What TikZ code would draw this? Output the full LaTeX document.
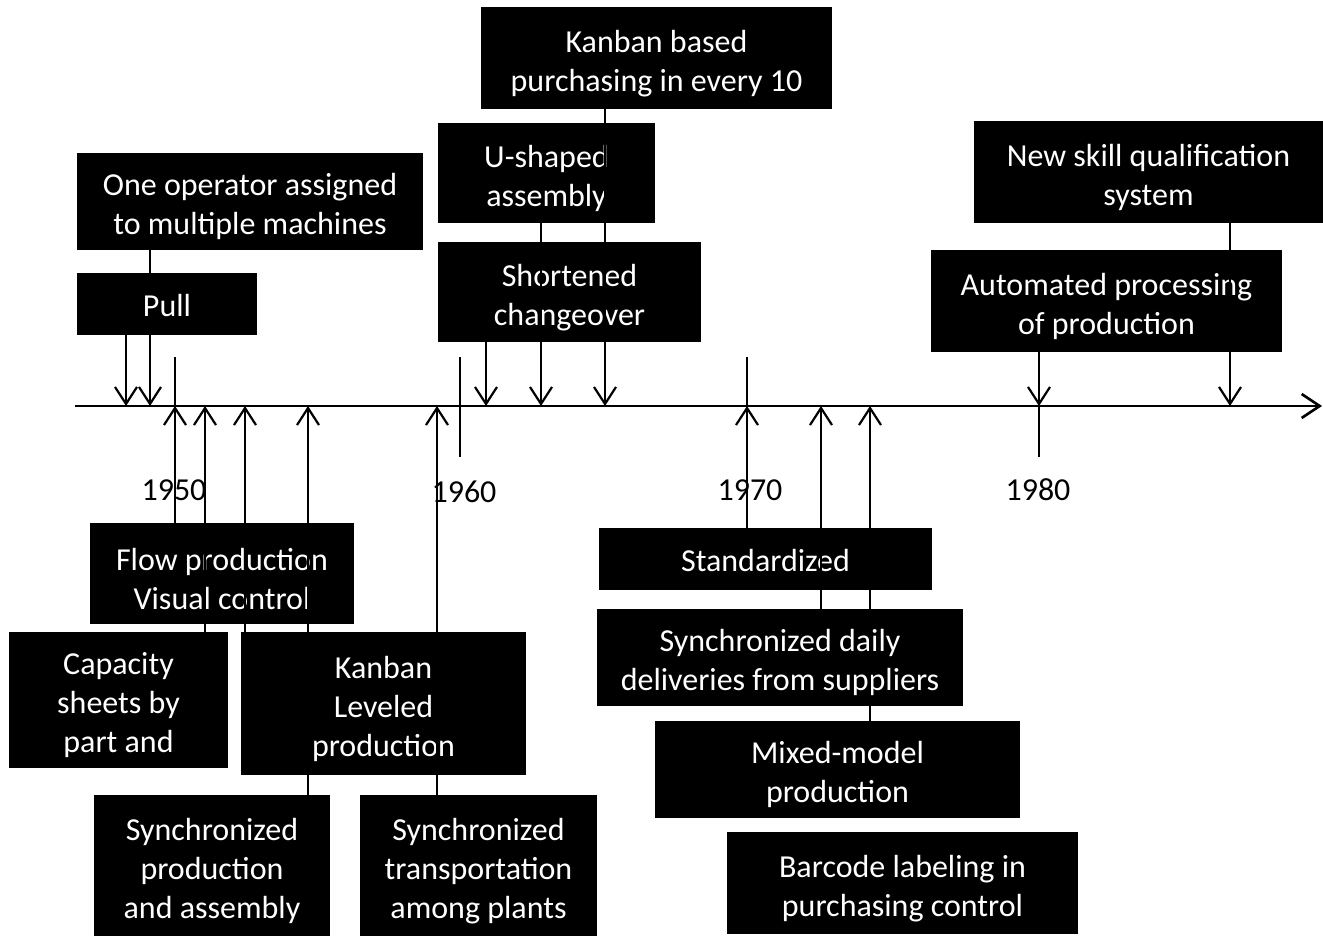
\documentclass[tikz,border=0pt]{standalone}
\usepackage{fontspec}
\setmainfont{Carlito}
\usetikzlibrary{arrows.meta}
\newcommand{\tstrut}{\rule{0pt}{33pt}}
\newcommand{\sstrut}{\rule{0pt}{26pt}}
\begin{document}
\begin{tikzpicture}[x=1pt,y=-1pt,
 box/.style={fill=black,text=white,inner sep=0pt,align=center,font=\fontsize{32}{39}\selectfont},
 conn/.style={line width=2.2pt,-{Straight Barb[length=17pt,width=22pt,line width=2.2pt]}},
 plain/.style={line width=2.2pt},
 axisline/.style={line width=2.8pt,-{Straight Barb[length=18pt,width=24pt,line width=2.6pt]}},
 tickline/.style={line width=1.6pt},
 year/.style={font=\fontsize{32}{39}\selectfont,inner sep=0pt}]
\useasboundingbox (0,0) rectangle (1323,936);
% top boxes
\node[box,minimum width=351,minimum height=102] (kb) at (656.5,58) {\tstrut Kanban based\\purchasing in every 10};
\node[box,minimum width=217,minimum height=100] (ush) at (546.5,173) {\tstrut U-shaped\\assembly};
\node[box,minimum width=263,minimum height=100] (sho) at (569.5,292) {\tstrut Shortened\\changeover};
\node[box,minimum width=346,minimum height=97] (one) at (250,201.5) {\tstrut One operator assigned\\to multiple machines};
\node[box,minimum width=180,minimum height=62] (pull) at (167,304) {\sstrut Pull};
\node[box,minimum width=349,minimum height=102] (ns) at (1148.5,172) {\tstrut New skill qualification\\system};
\node[box,minimum width=351,minimum height=102] (aut) at (1106.5,301) {\tstrut Automated processing\\of production};
% bottom boxes
\node[box,minimum width=264,minimum height=101] (flow) at (222,573.5) {\tstrut Flow production\\Visual control};
\node[box,minimum width=219,minimum height=136] (cap) at (118.5,700) {\tstrut Capacity\\sheets by\\part and};
\node[box,minimum width=285,minimum height=143] (kl) at (383.5,703.5) {\tstrut Kanban\\Leveled\\production};
\node[box,minimum width=236,minimum height=141] (sp) at (212,865.5) {\tstrut Synchronized\\production\\and assembly};
\node[box,minimum width=237,minimum height=141] (st) at (478.5,865.5) {\tstrut Synchronized\\transportation\\among plants};
\node[box,minimum width=333,minimum height=62] (std) at (765.5,559) {\sstrut Standardized};
\node[box,minimum width=366,minimum height=97] (sd) at (780,657.5) {\tstrut Synchronized daily\\deliveries from suppliers};
\node[box,minimum width=365,minimum height=97] (mm) at (837.5,769.5) {\tstrut Mixed-model\\production};
\node[box,minimum width=351,minimum height=102] (bc) at (902.5,883) {\tstrut Barcode labeling in\\purchasing control};
% axis
\coordinate (axL) at (75,406);
\coordinate (axR) at (1322,406);
\draw[axisline] (axL) -- (axR);
% ticks
\draw[tickline] (175,357) -- (175,457);
\draw[tickline] (460,357) -- (460,457);
\draw[tickline] (747,357) -- (747,457);
\draw[tickline] (1039,357) -- (1039,457);
\node[year] (y50) at (174,490) {1950};
\node[year] (y60) at (464,492) {1960};
\node[year] (y70) at (750,490) {1970};
\node[year] (y80) at (1038,490) {1980};
% axis points
\foreach \n/\x in {d1/126,d2/150,d3/486,d4/541,d5/605,d6/1039,d7/1230,
                  u1/175,u2/205,u3/245,u4/308,u5/437,u6/747,u7/821,u8/870}
  \coordinate (\n) at (\x,406);
% down arrows
\draw[conn] (pull.south -| d1) -- (d1);
\draw[plain] (one.south -| d2) -- (pull.north -| d2);
\draw[conn] (pull.south -| d2) -- (d2);
\draw[conn] (sho.south -| d3) -- (d3);
\draw[conn] (ush.south -| d4) -- (d4);
\draw[conn] (kb.south -| d5) -- (d5);
\draw[conn] (aut.south -| d6) -- (d6);
\draw[conn] (ns.south -| d7) -- (d7);
% up arrows
\draw[conn] (flow.north -| u1) -- (u1);
\draw[conn] (cap.north -| u2) -- (u2);
\draw[conn] (kl.north -| u3) -- (u3);
\draw[conn] (sp.north -| u4) -- (u4);
\draw[conn] (st.north -| u5) -- (u5);
\draw[conn] (std.north -| u6) -- (u6);
\draw[conn] (sd.north -| u7) -- (u7);
\draw[conn] (mm.north -| u8) -- (u8);
\end{tikzpicture}
\end{document}
